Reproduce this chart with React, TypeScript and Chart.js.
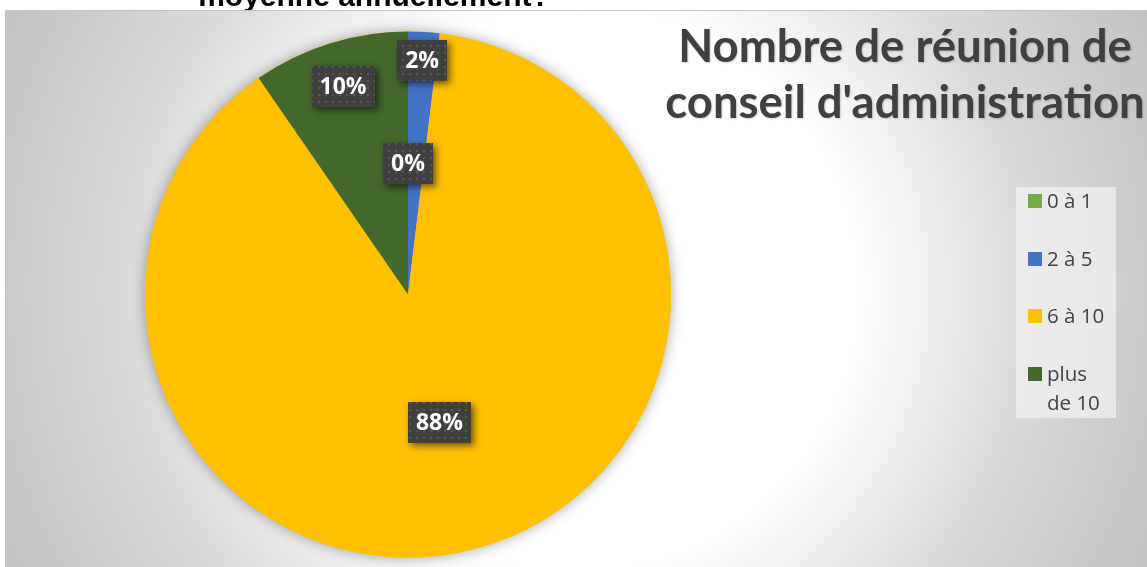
import React, { useEffect, useRef } from 'react';
import { Chart, registerables } from 'chart.js';

Chart.register(...registerables);

const categories = ['0 à 1', '2 à 5', '6 à 10', 'plus de 10'];
const counts = [0, 1, 46, 5];
const sliceColors = ['#70AD47', '#4472C4', '#FFC000', '#43682B'];
const titleLines = ['Nombre de réunion de', "conseil d'administration"];
const clippedHeading = 'moyenne annuellement?';
const labelRadius = [0.5, 0.89, 0.5, 0.83];

export default function App() {
  const ref = useRef<HTMLCanvasElement>(null);

  useEffect(() => {
    document.body.style.margin = '0';
    const canvas = ref.current;
    if (!canvas) return;

    const pc = document.createElement('canvas');
    pc.width = 7;
    pc.height = 7;
    const pctx = pc.getContext('2d')!;
    pctx.fillStyle = '#404040';
    pctx.fillRect(0, 0, 7, 7);
    pctx.fillStyle = '#585858';
    pctx.fillRect(3, 3, 2, 2);

    const bgPlugin = {
      id: 'bg',
      beforeDraw(chart: any) {
        const ctx = chart.ctx as CanvasRenderingContext2D;
        const W = chart.width;
        const H = chart.height;
        ctx.save();
        ctx.fillStyle = '#ffffff';
        ctx.fillRect(0, 0, W, H);
        ctx.fillStyle = '#000000';
        ctx.font = 'bold 30px "Liberation Sans", Arial, sans-serif';
        ctx.textAlign = 'center';
        ctx.textBaseline = 'alphabetic';
        ctx.fillText(clippedHeading, 374, 6);
        const g = ctx.createRadialGradient(576, 289, 0, 576, 289, 640);
        g.addColorStop(0, '#ffffff');
        g.addColorStop(0.44, '#ffffff');
        g.addColorStop(0.7, '#dadada');
        g.addColorStop(1, '#c2c2c2');
        ctx.fillStyle = g;
        ctx.fillRect(6, 11, W - 6, H - 11);
        ctx.strokeStyle = '#c4c4c4';
        ctx.lineWidth = 1;
        ctx.beginPath();
        ctx.moveTo(5.5, H);
        ctx.lineTo(5.5, 10.5);
        ctx.lineTo(W, 10.5);
        ctx.stroke();
        ctx.restore();
      },
    };

    const shadowPlugin = {
      id: 'pieShadow',
      beforeDatasetsDraw(chart: any) {
        const arc = chart.getDatasetMeta(0).data[0];
        if (!arc) return;
        const ctx = chart.ctx as CanvasRenderingContext2D;
        ctx.save();
        ctx.shadowColor = 'rgba(0,0,0,0.35)';
        ctx.shadowBlur = 14;
        ctx.fillStyle = '#FFC000';
        ctx.beginPath();
        ctx.arc(arc.x, arc.y, arc.outerRadius, 0, Math.PI * 2);
        ctx.fill();
        ctx.restore();
      },
    };

    const overlayPlugin = {
      id: 'overlay',
      afterDraw(chart: any) {
        const ctx = chart.ctx as CanvasRenderingContext2D;
        const meta = chart.getDatasetMeta(0);
        const values = chart.data.datasets[0].data as number[];
        const total = values.reduce((a, b) => a + b, 0);
        const pattern = ctx.createPattern(pc, 'repeat');

        // data labels
        meta.data.forEach((el: any, i: number) => {
          const p = el.getProps(['x', 'y', 'startAngle', 'endAngle', 'outerRadius'], true);
          const mid = (p.startAngle + p.endAngle) / 2;
          const r = labelRadius[i] * p.outerRadius;
          const cx = p.x + Math.cos(mid) * r;
          const cy = p.y + Math.sin(mid) * r;
          const txt = Math.round((values[i] / total) * 100) + '%';
          ctx.save();
          ctx.font = 'bold 23px "Open Sans", sans-serif';
          const w = ctx.measureText(txt).width;
          const bw = Math.round(w + 16);
          const bh = 41;
          const bx = Math.round(cx - bw / 2);
          const by = Math.round(cy - bh / 2);
          ctx.shadowColor = 'rgba(0,0,0,0.55)';
          ctx.shadowBlur = 7;
          ctx.shadowOffsetX = 3;
          ctx.shadowOffsetY = 3;
          ctx.fillStyle = '#404040';
          ctx.fillRect(bx, by, bw, bh);
          ctx.shadowColor = 'transparent';
          if (pattern) {
            ctx.fillStyle = pattern;
            ctx.fillRect(bx, by, bw, bh);
          }
          ctx.fillStyle = '#ffffff';
          ctx.textAlign = 'center';
          ctx.textBaseline = 'middle';
          ctx.fillText(txt, cx, cy + 1);
          ctx.restore();
        });

        // title
        ctx.save();
        ctx.font = 'bold 45.5px Lato, "Open Sans", sans-serif';
        ctx.fillStyle = '#404040';
        ctx.textAlign = 'center';
        ctx.textBaseline = 'alphabetic';
        ctx.shadowColor = 'rgba(0,0,0,0.18)';
        ctx.shadowBlur = 2;
        ctx.shadowOffsetX = 1;
        ctx.shadowOffsetY = 1;
        ctx.fillText(titleLines[0], 905, 62);
        ctx.fillText(titleLines[1], 905, 118);
        ctx.restore();

        // legend
        ctx.save();
        ctx.fillStyle = 'rgba(242,242,242,0.7)';
        ctx.fillRect(1016, 187, 100, 231);
        ctx.font = '20.5px "Open Sans", sans-serif';
        ctx.textAlign = 'left';
        ctx.textBaseline = 'middle';
        const labels = chart.data.labels as string[];
        const colors = chart.data.datasets[0].backgroundColor as string[];
        const maxW = 66;
        labels.forEach((lab, i) => {
          const yc = 201 + i * 57.7;
          ctx.fillStyle = colors[i];
          ctx.fillRect(1028, Math.round(yc - 7), 14, 14);
          ctx.fillStyle = '#444444';
          const words = lab.split(' ');
          const lines: string[] = [];
          let cur = '';
          words.forEach((wd) => {
            const test = cur ? cur + ' ' + wd : wd;
            if (ctx.measureText(test).width > maxW && cur) {
              lines.push(cur);
              cur = wd;
            } else cur = test;
          });
          if (cur) lines.push(cur);
          lines.forEach((ln, k) => ctx.fillText(ln, 1047, yc + 1 + k * 29));
        });
        ctx.restore();
      },
    };

    const chart = new Chart(canvas, {
      type: 'pie',
      data: {
        labels: categories,
        datasets: [
          {
            data: counts,
            backgroundColor: sliceColors,
            borderWidth: 0,
          },
        ],
      },
      options: {
        responsive: false,
        animation: false,
        layout: { padding: { left: 145, right: 476, top: 31.5, bottom: 9.5 } },
        plugins: {
          legend: { display: false },
          tooltip: { enabled: false },
          title: { display: false },
        },
      },
      plugins: [bgPlugin, shadowPlugin, overlayPlugin],
    });

    return () => chart.destroy();
  }, []);

  return <canvas ref={ref} width={1147} height={567} style={{ display: 'block' }} />;
}
